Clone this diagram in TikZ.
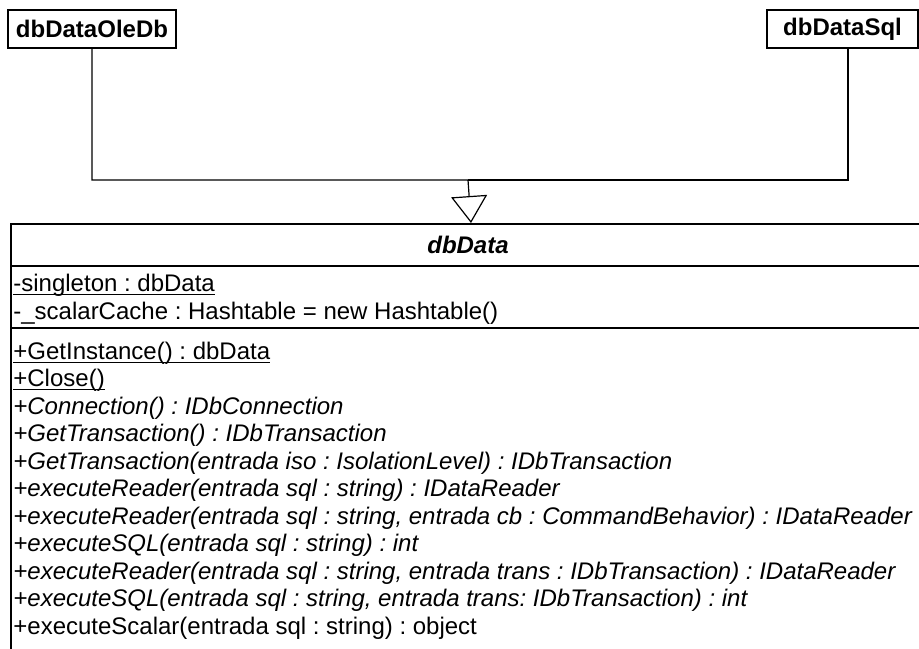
\documentclass[tikz,border=0pt]{standalone}
\usepackage{fontspec}
\setmainfont{Liberation Sans}
\usetikzlibrary{arrows.meta,positioning}
\frenchspacing

% underlined (static) member
\newcommand{\statictext}[1]{\setbox0\hbox{#1}\rlap{\rule[-1.9pt]{\wd0}{0.6pt}}\box0}

\tikzset{
	umlfont/.style={font=\fontsize{12}{13.8}\selectfont},
	umlbox/.style={draw,line width=1pt,inner sep=0pt,umlfont},
	member/.style={anchor=base west,inner sep=0pt,umlfont},
	abstract/.style={member,font=\fontsize{12}{13.8}\selectfont\itshape},
	inherit/.style={line width=0.6pt,-{Triangle[open,length=13.5pt,width=18pt]}},
}

\begin{document}
\begin{tikzpicture}[x=0.5pt,y=-0.5pt]
	\clip (0,0) rectangle (919,648);
	\fill[white] (0,0) rectangle (919,648);

	% subclasses
	\node [umlbox,minimum width=84pt,minimum height=19pt,font=\fontsize{12}{13.8}\selectfont\bfseries] (oledb) at (92,29) {dbDataOleDb};
	\node [umlbox,minimum width=75.5pt,minimum height=19pt,font=\fontsize{12}{13.8}\selectfont\bfseries] (sql) at (842.5,29) {dbDataSql};

	% base class
	\node [umlbox,anchor=north west,minimum width=460pt,minimum height=220pt] (dbdata) at (10,223) {};
	\node [font=\fontsize{12}{13.8}\selectfont\bfseries\itshape] (title) at (468,245) {dbData};
	\draw [line width=1pt] ([yshift=-21.5pt]dbdata.north west) -- ([yshift=-21.5pt]dbdata.north east);
	\draw [line width=1pt] ([yshift=-52.5pt]dbdata.north west) -- ([yshift=-52.5pt]dbdata.north east);

	% generalisation
	\coordinate (hub) at (468,180);
	\draw [inherit] (oledb.south) |- (hub) -- (dbdata.north);
	\draw [line width=0.6pt] ([xshift=2.75pt]sql.south) |- (hub);

	% attributes
	\node [member] (a1) at (13,291) {\statictext{-singleton : dbData}};
	\node [member] (a2) at (13,319) {-\_scalarCache : Hashtable = new Hashtable()};

	% operations
	\node [member] (m1) at (13,359) {\statictext{+GetInstance() : dbData}};
	\node [member] (m2) at (13,386.5) {\statictext{+Close()}};
	\node [abstract] (m3) at (13,414) {+Connection() : IDbConnection};
	\node [abstract] (m4) at (13,441.5) {+GetTransaction() : IDbTransaction};
	\node [abstract] (m5) at (13,469) {+GetTransaction(entrada iso : IsolationLevel) : IDbTransaction};
	\node [abstract] (m6) at (13,496.5) {+executeReader(entrada sql : string) : IDataReader};
	\node [abstract] (m7) at (13,524) {+executeReader(entrada sql : string, entrada cb : CommandBehavior) : IDataReader};
	\node [abstract] (m8) at (13,551.5) {+executeSQL(entrada sql : string) : int};
	\node [abstract] (m9) at (13,579) {+executeReader(entrada sql : string, entrada trans : IDbTransaction) : IDataReader};
	\node [abstract] (m10) at (13,606.5) {+executeSQL(entrada sql : string, entrada trans: IDbTransaction) : int};
	\node [member] (m11) at (13,634) {+executeScalar(entrada sql : string) : object};
\end{tikzpicture}
\end{document}
